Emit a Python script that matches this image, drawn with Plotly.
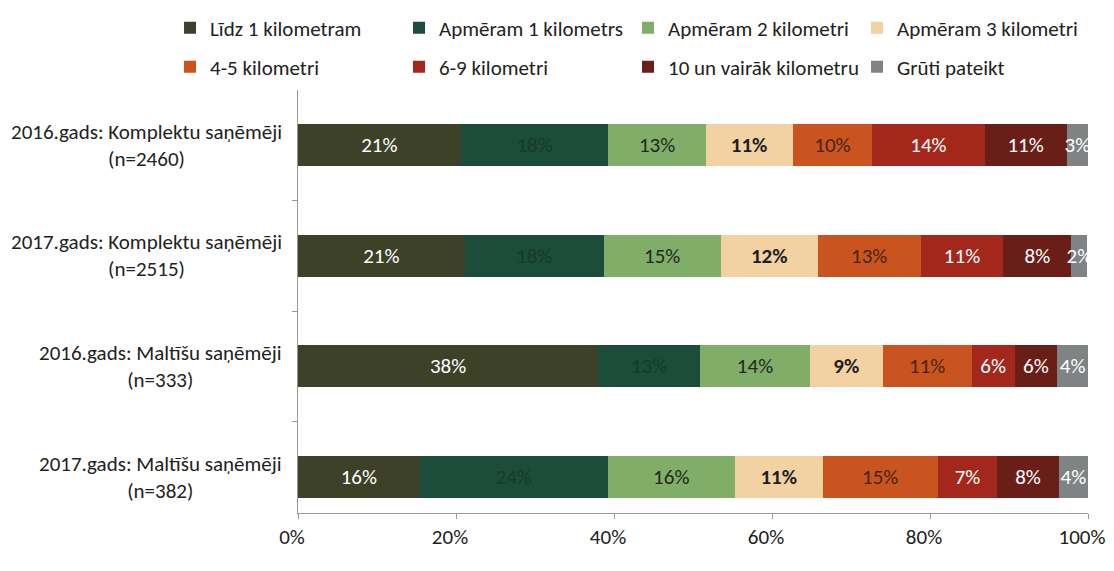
import plotly.graph_objects as go

categories = [
    "2016.gads: Komplektu saņēmēji<br>(n=2460)",
    "2017.gads: Komplektu saņēmēji<br>(n=2515)",
    "2016.gads: Maltīšu saņēmēji<br>(n=333)",
    "2017.gads: Maltīšu saņēmēji<br>(n=382)",
]
series_names = [
    "Līdz 1 kilometram",
    "Apmēram 1 kilometrs",
    "Apmēram 2 kilometri",
    "Apmēram 3 kilometri",
    "4-5 kilometri",
    "6-9 kilometri",
    "10 un vairāk kilometru",
    "Grūti pateikt",
]
# estimated shares (%) per category, per series
values = [
    [20.6, 21.1, 38.0, 15.4],
    [18.7, 17.6, 12.9, 23.8],
    [12.3, 14.8, 13.9, 16.1],
    [11.0, 12.3, 9.2, 11.1],
    [10.1, 13.0, 11.3, 14.6],
    [14.2, 10.5, 5.4, 7.5],
    [10.4, 8.6, 5.4, 7.8],
    [2.7, 2.0, 3.9, 3.7],
]
labels = [
    ["21%", "21%", "38%", "16%"],
    ["18%", "18%", "13%", "24%"],
    ["13%", "15%", "14%", "16%"],
    ["11%", "12%", "9%", "11%"],
    ["10%", "13%", "11%", "15%"],
    ["14%", "11%", "6%", "7%"],
    ["11%", "8%", "6%", "8%"],
    ["3%", "2%", "4%", "4%"],
]
xticks = [0, 20, 40, 60, 80, 100]
xticklabels = ["0%", "20%", "40%", "60%", "80%", "100%"]

colors = ["#3d4127", "#1c4c3a", "#80ad67", "#f2d1a2", "#c9541f", "#a3281b", "#691e18", "#7f8384"]
text_colors = ["#ffffff", "#163b2c", "#1e2a1e", "#1e1e1e", "#4a2412", "#ffffff", "#ffffff", "#ffffff"]
bold = [False, False, False, True, False, False, False, False]

FONT = "Carlito, Lato, sans-serif"
FS = 21
ypos = list(range(len(categories)))

fig = go.Figure()
for i, name in enumerate(series_names):
    fig.add_trace(go.Bar(
        name=name,
        y=ypos,
        x=values[i],
        orientation="h",
        marker=dict(color=colors[i], line=dict(width=0)),
        text=labels[i],
        texttemplate="<b>%{text}</b>" if bold[i] else "%{text}",
        textposition="inside",
        insidetextanchor="middle",
        constraintext="none",
        textangle=0,
        textfont=dict(family=FONT, size=21, color=text_colors[i]),
        width=0.38,
        hoverinfo="skip",
        legend="legend" if i < 4 else "legend2",
    ))

for j, c in enumerate(categories):
    fig.add_annotation(
        x=0, xref="paper", y=ypos[j], yref="y",
        text=c, showarrow=False, xanchor="right", yanchor="middle",
        align="center", xshift=-14,
        font=dict(family=FONT, size=FS, color="#222222"),
    )

leg_common = dict(
    orientation="h",
    xref="paper", yref="paper",
    x=-0.162, xanchor="left", yanchor="middle",
    entrywidth=184, entrywidthmode="pixels",
    itemwidth=30, traceorder="normal",
    font=dict(family=FONT, size=FS, color="#222222"),
    bgcolor="rgba(0,0,0,0)",
)

fig.update_layout(
    barmode="stack",
    width=1106, height=555,
    margin=dict(l=290, r=26, t=82, b=50, autoexpand=False),
    paper_bgcolor="white", plot_bgcolor="white",
    font=dict(family=FONT, size=FS, color="#222222"),
    showlegend=True,
    legend=dict(y=1.1466, **leg_common),
    legend2=dict(y=1.0544, **leg_common),
    xaxis=dict(
        range=[0, 100], tickvals=xticks, ticktext=xticklabels,
        showgrid=False, zeroline=False, showline=True, linecolor="#9a9a9a",
        ticks="outside", ticklen=5, tickcolor="#9a9a9a",
        tickfont=dict(family=FONT, size=FS, color="#222222"),
        ticklabeloverflow="allow",
        ticklabelshift=-6,
        fixedrange=True,
    ),
    yaxis=dict(
        range=[3.325, -0.497], tickvals=ypos, ticktext=["" for _ in ypos],
        showgrid=False, zeroline=False, showline=True, linecolor="#9a9a9a",
        ticks="",
        minor=dict(tick0=0.5, dtick=1, ticks="outside", ticklen=5, tickcolor="#9a9a9a", showgrid=False),
        fixedrange=True,
    ),
)

fig.write_html("out.html")
